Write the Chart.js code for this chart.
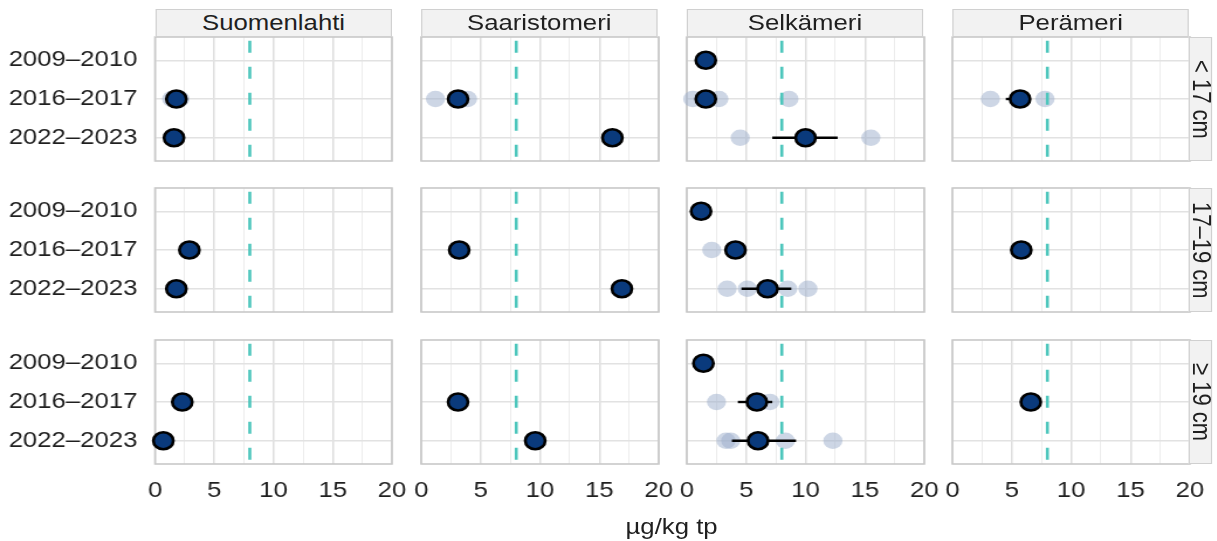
<!DOCTYPE html>
<html>
<head>
<meta charset="utf-8">
<script src="https://cdn.jsdelivr.net/npm/chart.js@4/dist/chart.umd.min.js"></script>
<style>
  body { margin: 0; background: #fff; width: 1217px; height: 541px; overflow: hidden; }
  #wrap { position: absolute; left: 0; top: 0; width: 1040px; height: 541px;
          transform: scaleX(1.17); transform-origin: 0 0;
          font-family: "Liberation Sans", Arial, sans-serif; color: #1f1f1f; }
  .panel { position: absolute; line-height: 0; }
  .panel canvas { display: block; }
  .strip { position: absolute; box-sizing: border-box; background: #f2f2f2; border: 1.5px solid #d0d0d0;
           display: flex; align-items: center; justify-content: center; font-size: 22px; line-height: 1; }
  .strip.side { writing-mode: vertical-rl; }
  #xtitle { position: absolute; left: 474px; width: 200px; top: 515px; text-align: center; font-size: 22px; line-height: 24px; }
</style>
</head>
<body>
<div id="wrap"></div>
<script>
// === Data ===
const regions = ['Suomenlahti', 'Saaristomeri', 'Selkämeri', 'Perämeri'];
const sizeClasses = ['< 17 cm', '17–19 cm', '≥ 19 cm'];
const periods = ['2009–2010', '2016–2017', '2022–2023'];
const xTicks = [0, 5, 10, 15, 20];
const threshold = 8;
const xTitle = 'µg/kg tp';

// keskiarvot: alue -> [2009–2010, 2016–2017, 2022–2023]
const meanLt17 = [[null, 1.8, 1.6], [null, 3.1, 16.1], [1.6, 1.6, 10.0], [null, 5.7, null]];
const mean17to19 = [[null, 2.9, 1.8], [null, 3.2, 16.9], [1.2, 4.1, 6.8], [null, 5.8, null]];
const meanGe19 = [[null, 2.3, 0.7], [null, 3.1, 9.6], [1.4, 5.9, 6.0], [null, 6.6, null]];

// yksittäiset näytteet: [alue, jakso, arvo]
const obsLt17 = [[0, 1, 1.4], [0, 1, 2.1], [1, 1, 1.2], [1, 1, 3.9], [2, 1, 0.5], [2, 1, 2.7], [2, 1, 8.6],
                 [2, 2, 4.5], [2, 2, 15.5], [3, 1, 3.2], [3, 1, 7.8]];
const obs17to19 = [[2, 1, 2.1], [2, 2, 3.4], [2, 2, 5.1], [2, 2, 8.5], [2, 2, 10.2]];
const obsGe19 = [[2, 1, 2.5], [2, 1, 7.0], [2, 2, 3.3], [2, 2, 3.7], [2, 2, 8.3], [2, 2, 12.3]];

// virhepalkit: [alue, jakso, ala, ylä]
const errLt17 = [[2, 2, 7.2, 12.7], [3, 1, 4.5, 6.3]];
const err17to19 = [[2, 2, 4.6, 8.8]];
const errGe19 = [[2, 1, 4.3, 7.2], [2, 2, 3.8, 9.2]];

const meanRows = [meanLt17, mean17to19, meanGe19];
const obsRows = [obsLt17, obs17to19, obsGe19];
const errRows = [errLt17, err17to19, errGe19];

// === Layout (unscaled px, wrap is stretched horizontally) ===
const colLeft = [132.5, 359.6, 586.7, 813.8];
const panelW = 202.6;
const rowTop = [37, 188, 340];
const panelH = 124;
const font = { family: '"Liberation Sans", Arial, sans-serif', size: 22 };

const wrap = document.getElementById('wrap');

const panelBorder = {
  id: 'panelBorder',
  beforeDatasetsDraw(chart) {
    const a = chart.chartArea, ctx = chart.ctx;
    ctx.save();
    ctx.strokeStyle = '#c8c8c8';
    ctx.lineWidth = 1.6;
    ctx.strokeRect(a.left, a.top, a.width, a.height);
    ctx.restore();
  }
};

function makePanel(r, c) {
  const yW = c === 0 ? colLeft[0] : 0;
  // reilu marginaali, jotta akselien omat täytteet eivät kutista piirtoaluetta
  const padL = c === 0 ? 0 : 34, padR = 34;
  const padT = 34, padB = r === 2 ? 0 : 34;
  const xH = r === 2 ? 44 : 0;
  const box = document.createElement('div');
  box.className = 'panel';
  box.style.left = (colLeft[c] - yW - padL) + 'px';
  box.style.top = (rowTop[r] - padT) + 'px';
  const cv = document.createElement('canvas');
  cv.width = Math.round(panelW + yW + padL + padR);
  cv.height = panelH + xH + padT + padB;
  box.appendChild(cv);
  wrap.appendChild(box);

  const means = meanRows[r][c].map((v, i) => v == null ? null : { x: v, y: i + 1 }).filter(Boolean);
  const obs = obsRows[r].filter(o => o[0] === c).map(o => ({ x: o[2], y: o[1] + 1 }));
  const errs = errRows[r].filter(e => e[0] === c).map(e => ({
    type: 'line', showLine: true, pointRadius: 0, borderColor: '#000', borderWidth: 2.4, clip: false,
    data: [{ x: e[2], y: e[1] + 1 }, { x: e[3], y: e[1] + 1 }]
  }));

  // index 0 piirretään päällimmäiseksi
  const datasets = [
    { data: means, pointRadius: 8.5, pointBackgroundColor: '#0a3a7c', pointBorderColor: '#000', pointBorderWidth: 2.6, clip: false },
    ...errs,
    { type: 'line', showLine: true, pointRadius: 0, borderColor: '#4cc6bc', borderWidth: 2.6,
      borderDash: [12, 14], borderDashOffset: 22.3,
      data: [{ x: threshold, y: 0.4 }, { x: threshold, y: 3.6 }] },
    { data: obs, pointRadius: 8.2, pointBackgroundColor: 'rgba(155,174,203,0.5)', pointBorderWidth: 0, clip: false }
  ];

  new Chart(cv, {
    type: 'scatter',
    data: { datasets },
    options: {
      responsive: false, animation: false, events: [],
      layout: { autoPadding: false, padding: { left: padL, right: padR, top: padT, bottom: padB } },
      plugins: { legend: { display: false }, tooltip: { enabled: false } },
      scales: {
        x: {
          type: 'linear', min: 0, max: 20,
          border: { display: false },
          grid: {
            drawTicks: false,
            color: ctx => xTicks.includes(ctx.tick.value) ? '#dedede' : '#ececec',
            lineWidth: ctx => xTicks.includes(ctx.tick.value) ? 1.5 : 1
          },
          ticks: {
            display: r === 2, stepSize: 2.5, autoSkip: false, maxRotation: 0, minRotation: 0,
            padding: 14, color: '#1f1f1f', font,
            callback: v => xTicks.includes(v) ? String(v) : ''
          },
          afterFit: s => { s.height = xH; }
        },
        y: {
          type: 'linear', min: 0.4, max: 3.6, reverse: true,
          border: { display: false },
          grid: { drawTicks: false, color: '#e2e2e2', lineWidth: 1.5 },
          afterBuildTicks: s => { s.ticks = periods.map((p, i) => ({ value: i + 1 })); },
          ticks: { display: c === 0, padding: 15, color: '#1f1f1f', font, callback: v => periods[v - 1] },
          afterFit: s => { s.width = yW; }
        }
      }
    },
    plugins: [panelBorder]
  });
}

for (let r = 0; r < sizeClasses.length; r++) {
  for (let c = 0; c < regions.length; c++) makePanel(r, c);
}

regions.forEach((name, c) => {
  const s = document.createElement('div');
  s.className = 'strip';
  s.style.left = colLeft[c] + 'px';
  s.style.top = '9px';
  s.style.width = panelW + 'px';
  s.style.height = '28px';
  s.textContent = name;
  wrap.appendChild(s);
});

sizeClasses.forEach((name, r) => {
  const s = document.createElement('div');
  s.className = 'strip side';
  s.style.left = (colLeft[3] + panelW) + 'px';
  s.style.top = rowTop[r] + 'px';
  s.style.width = '20px';
  s.style.height = panelH + 'px';
  s.textContent = name;
  wrap.appendChild(s);
});

const t = document.createElement('div');
t.id = 'xtitle';
t.textContent = xTitle;
wrap.appendChild(t);
</script>
</body>
</html>
